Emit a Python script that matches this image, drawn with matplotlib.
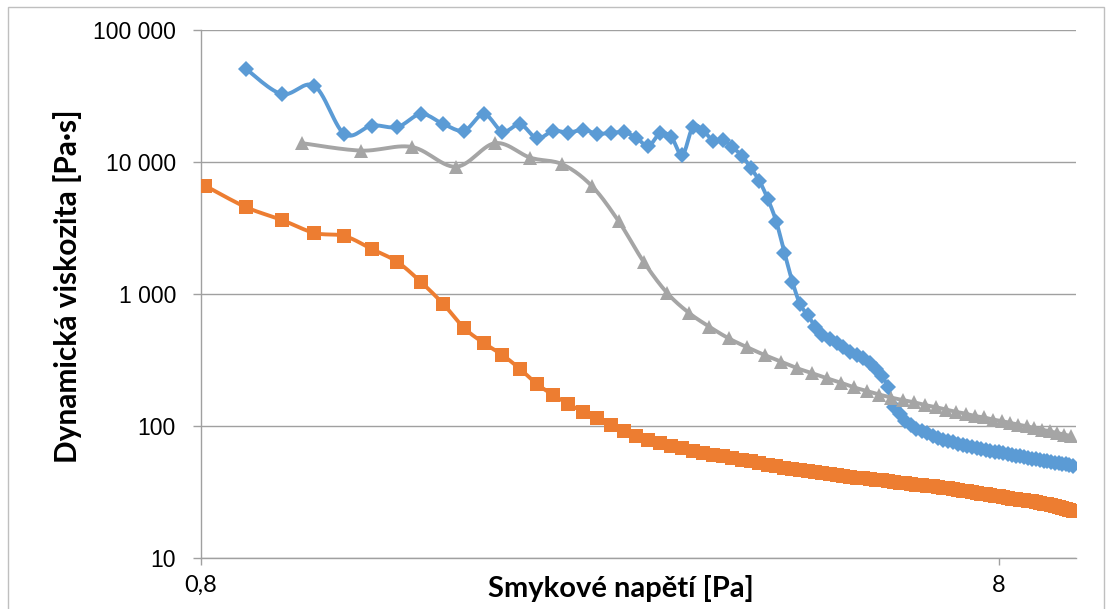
import numpy as np
import matplotlib
matplotlib.use("Agg")
import matplotlib.pyplot as plt
from matplotlib.ticker import FixedLocator, FixedFormatter, NullLocator
from matplotlib.patches import Rectangle

# Shear stress grid [Pa] and dynamic viscosity [Pa·s] for the three samples
stress_orange = [0.81, 0.91, 1.01, 1.11, 1.21, 1.31, 1.41, 1.51, 1.61, 1.71,
                 1.81, 1.91, 2.01, 2.11, 2.21, 2.31, 2.41, 2.51, 2.61, 2.71,
                 2.81, 2.91, 3.01, 3.11, 3.21, 3.31, 3.41, 3.51, 3.61, 3.71,
                 3.81, 3.91, 4.01, 4.11, 4.21, 4.31, 4.41, 4.51, 4.61, 4.71,
                 4.81, 4.91, 5.01, 5.11, 5.21, 5.31, 5.41, 5.51, 5.61, 5.71,
                 5.81, 5.91, 6.01, 6.11, 6.21, 6.31, 6.41, 6.51, 6.61, 6.71,
                 6.81, 6.91, 7.01, 7.11, 7.21, 7.31, 7.41, 7.51, 7.61, 7.71,
                 7.81, 7.91, 8.01, 8.11, 8.21, 8.31, 8.41, 8.51, 8.61, 8.71,
                 8.81, 8.91, 9.01, 9.11, 9.21, 9.31, 9.41, 9.51, 9.61, 9.71,
                 9.81, 9.91]
visc_orange = [6600, 4560, 3640, 2900, 2750, 2190, 1750, 1230, 840, 552,
               425, 345, 270, 208, 172, 147, 128, 114, 102, 92,
               84, 79, 74.3, 70.8, 67.6, 64.7, 62.7, 60.8, 59.0, 57.3,
               55.7, 54.1, 52.5, 50.9, 49.4, 48.0, 47.2, 46.4, 45.6, 44.8,
               44.0, 43.3, 42.6, 42.0, 41.3, 40.7, 40.2, 39.7, 39.2, 38.8,
               38.3, 37.8, 37.3, 36.9, 36.4, 36.0, 35.6, 35.3, 34.9, 34.6,
               34.2, 33.7, 33.3, 32.8, 32.4, 31.9, 31.5, 31.1, 30.8, 30.4,
               30.0, 29.6, 29.3, 28.9, 28.6, 28.2, 27.9, 27.6, 27.3, 27.1,
               26.8, 26.5, 26.2, 25.8, 25.5, 25.2, 24.8, 24.5, 24.1, 23.6,
               23.2, 22.7]

stress_blue = [0.91, 1.01, 1.11, 1.21, 1.31, 1.41, 1.51, 1.61, 1.71,
               1.81, 1.91, 2.01, 2.11, 2.21, 2.31, 2.41, 2.51, 2.61, 2.71,
               2.81, 2.91, 3.01, 3.11, 3.21, 3.31, 3.41, 3.51, 3.61, 3.71,
               3.81, 3.91, 4.01, 4.11, 4.21, 4.31, 4.41, 4.51, 4.61, 4.71,
               4.81, 4.91, 5.01, 5.11, 5.21, 5.31, 5.41, 5.51, 5.61, 5.71,
               5.81, 5.91, 6.01, 6.11, 6.21, 6.31, 6.41, 6.51, 6.61, 6.71,
               6.81, 6.91, 7.01, 7.11, 7.21, 7.31, 7.41, 7.51, 7.61, 7.71,
               7.81, 7.91, 8.01, 8.11, 8.21, 8.31, 8.41, 8.51, 8.61, 8.71,
               8.81, 8.91, 9.01, 9.11, 9.21, 9.31, 9.41, 9.51, 9.61, 9.71,
               9.81, 9.91]
visc_blue = [51000, 32700, 37700, 16300, 18900, 18400, 23100, 19400, 17300,
             23100, 17000, 19300, 15100, 17200, 16700, 17500, 16400, 16600, 16800,
             15300, 13200, 16500, 15400, 11300, 18500, 17300, 14400, 14700, 12900,
             11200, 9060, 7180, 5210, 3530, 2060, 1240, 835, 693, 565,
             489, 456, 425, 394, 364, 345, 325, 300, 270, 239,
             197, 139, 123, 109, 102, 95.7, 91.6, 87.8, 84.7, 81.8,
             79.0, 77.0, 75.0, 73.1, 71.6, 70.2, 69.0, 67.8, 66.7, 65.8,
             64.7, 63.8, 63.0, 62.0, 61.1, 60.3, 59.6, 58.9, 58.1, 57.3,
             56.6, 56.0, 55.2, 54.6, 54.0, 53.3, 52.7, 52.1, 51.5, 51.1,
             50.5, 49.9]

stress_gray = [1.07, 1.27, 1.47, 1.67, 1.87, 2.07, 2.27, 2.47, 2.67, 2.87,
               3.07, 3.27, 3.47, 3.67, 3.87, 4.07, 4.27, 4.47, 4.67, 4.87,
               5.07, 5.27, 5.47, 5.67, 5.87, 6.07, 6.27, 6.47, 6.67, 6.87,
               7.07, 7.27, 7.47, 7.67, 7.87, 8.07, 8.27, 8.47, 8.67, 8.87,
               9.07, 9.27, 9.47, 9.67, 9.87]
visc_gray = [13900, 12200, 13000, 9200, 13900, 10780, 9610, 6610, 3570, 1757,
             1023, 721, 565, 461, 395, 345, 307, 274, 251, 230,
             213, 196, 184, 173, 164, 157, 151, 144, 139, 133,
             128, 124, 119, 116, 112, 109, 105.5, 102.5, 99.5, 96.6,
             93.8, 91.0, 88.5, 86.1, 83.7]

x_ticks = [0.8, 8]
x_tick_labels = ["0,8", "8"]
y_ticks = [10, 100, 1000, 10000, 100000]
y_tick_labels = ["10", "100", "1 000", "10 000", "100 000"]

BLUE = "#5B9BD5"
ORANGE = "#ED7D31"
GRAY = "#A5A5A5"
GRID = "#A0A0A0"


def smooth_loglog(x, y, steps=14):
    """Bezier (Catmull-Rom) smoothing through the points in log-log space."""
    p = np.column_stack([np.log10(x), np.log10(y)])
    n = len(p)
    out = [p[0]]
    t = np.linspace(0, 1, steps + 1)[1:, None]
    for i in range(n - 1):
        p0 = p[i - 1] if i > 0 else p[i]
        p1, p2 = p[i], p[i + 1]
        p3 = p[i + 2] if i + 2 < n else p[i + 1]
        c1 = p1 + (p2 - p0) / 6.0
        c2 = p2 - (p3 - p1) / 6.0
        seg = ((1 - t) ** 3) * p1 + 3 * ((1 - t) ** 2) * t * c1 \
            + 3 * (1 - t) * t ** 2 * c2 + t ** 3 * p2
        out.extend(seg)
    out = np.array(out)
    return 10 ** out[:, 0], 10 ** out[:, 1]


fig = plt.figure(figsize=(11.12, 6.09), dpi=100)
ax = fig.add_axes([201 / 1112, 1 - 558 / 609, 875 / 1112, 528 / 609])

ax.set_xscale("log")
ax.set_yscale("log")
ax.set_xlim(0.8, 10.0)
ax.set_ylim(10, 100000)

series = [
    (stress_blue, visc_blue, BLUE, "D", 7.8, 3),
    (stress_orange, visc_orange, ORANGE, "s", 9.6, 4),
    (stress_gray, visc_gray, GRAY, "^", 10.2, 5),
]
for xs, ys, col, mk, ms, z in series:
    sx, sy = smooth_loglog(xs, ys)
    ax.plot(sx, sy, color=col, lw=2.8, zorder=z, solid_capstyle="round")
    ax.plot(xs, ys, ls="none", marker=mk, ms=ms, color=col,
            markeredgewidth=0, zorder=z)

# Axes styling: horizontal gridlines only, left and bottom axis lines
ax.yaxis.set_major_locator(FixedLocator(y_ticks))
ax.yaxis.set_major_formatter(FixedFormatter(y_tick_labels))
ax.yaxis.set_minor_locator(NullLocator())
ax.xaxis.set_major_locator(FixedLocator(x_ticks))
ax.xaxis.set_major_formatter(FixedFormatter(x_tick_labels))
ax.xaxis.set_minor_locator(NullLocator())

ax.grid(axis="y", color=GRID, lw=1.0)
ax.set_axisbelow(True)
for side in ("top", "right"):
    ax.spines[side].set_visible(False)
for side in ("left", "bottom"):
    ax.spines[side].set_color(GRID)
    ax.spines[side].set_linewidth(1.0)

ax.tick_params(axis="y", direction="out", length=6, width=1.0, color=GRID,
               pad=12, labelsize=16.5, labelcolor="black")
ax.tick_params(axis="x", direction="out", length=5, width=1.0, color=GRID,
               pad=7, labelsize=17, labelcolor="black")
for lab in ax.get_yticklabels():
    lab.set_family("Liberation Sans")
for lab in ax.get_xticklabels():
    lab.set_family("Lato")

ax.set_xlabel("Smykové napětí [Pa]", fontsize=21, fontweight="bold",
              family="Lato")
ax.xaxis.set_label_coords(0.48, -0.058)
ax.xaxis.label.set_va("center")
ax.set_ylabel("Dynamická viskozita [Pa·s]", fontsize=21.5, fontweight="bold",
              family="Lato")
ax.yaxis.set_label_coords(-0.152, 0.515)
ax.yaxis.label.set_va("center")

# Light chart-area frame
fig.patches.append(Rectangle((8 / 1112, -0.02), (1104 - 8) / 1112,
                             1 - 7 / 609 + 0.02, transform=fig.transFigure,
                             fill=False, edgecolor="#BFBFBF", lw=1.0))

fig.savefig("out.png", dpi=100)
